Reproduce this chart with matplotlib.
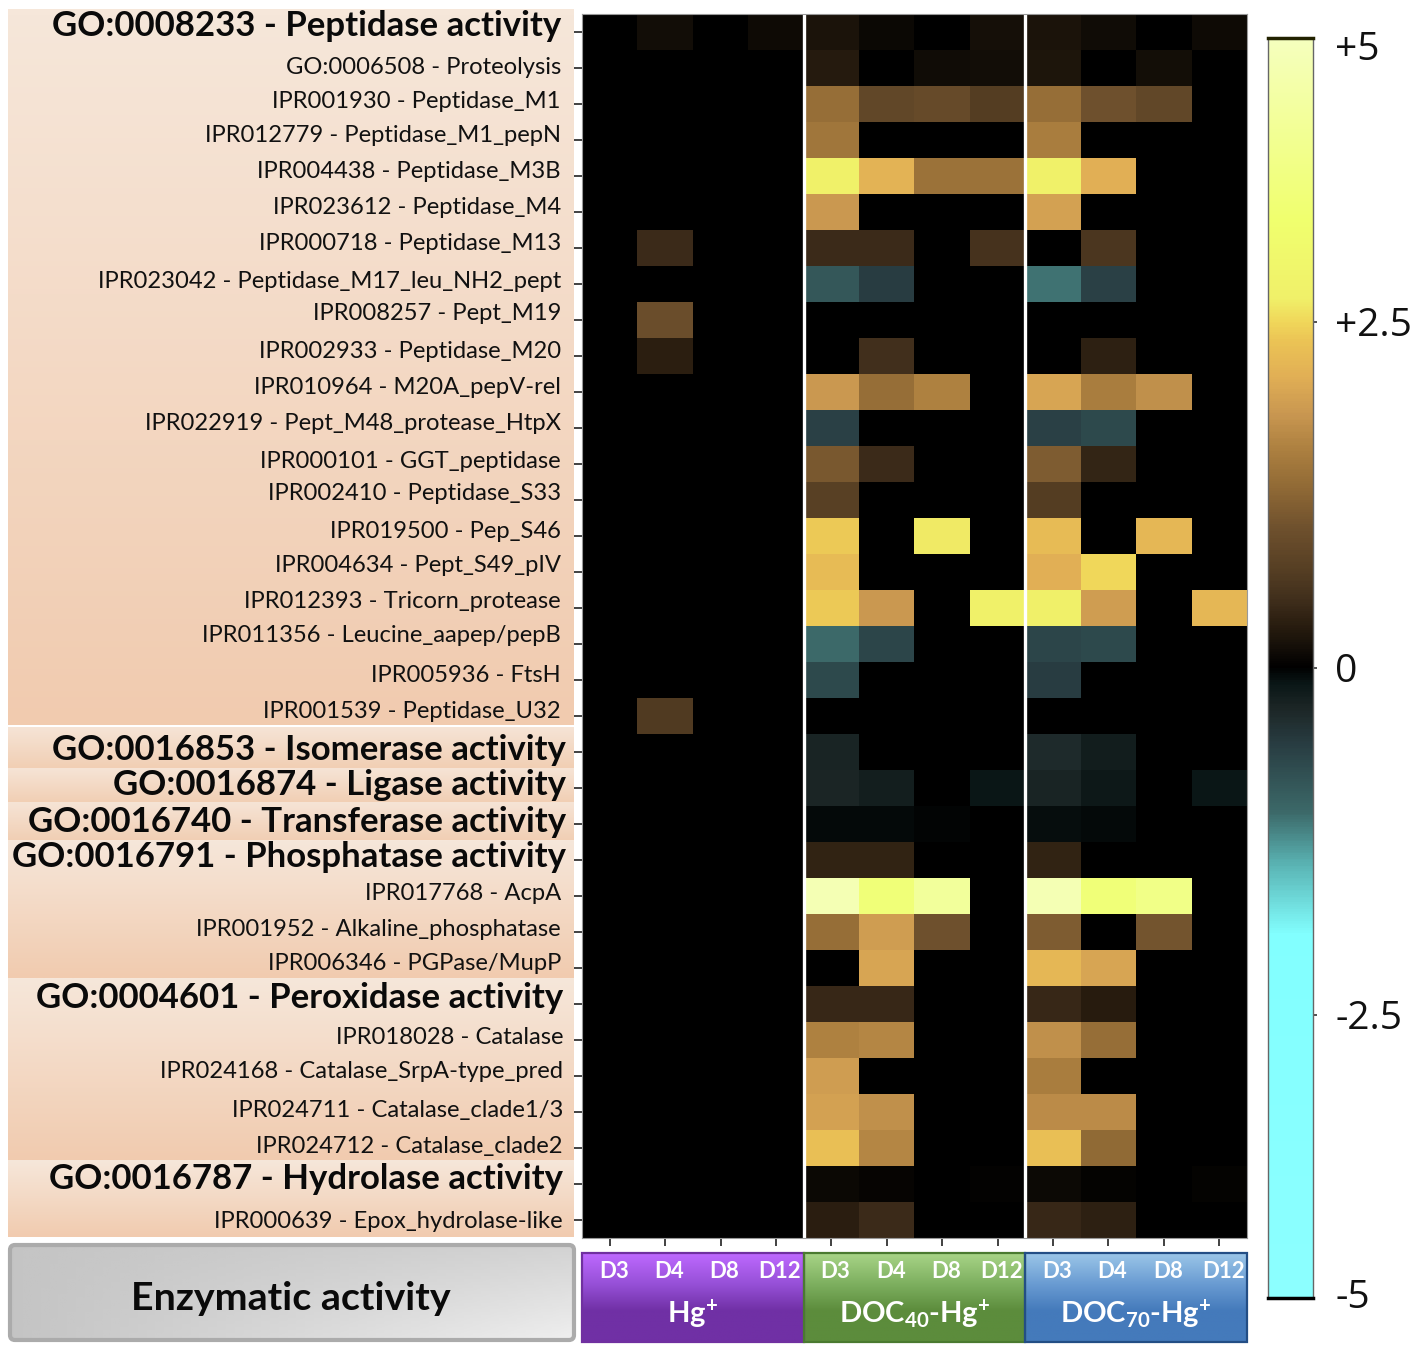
import numpy as np
import matplotlib
matplotlib.use("Agg")
import matplotlib.pyplot as plt
from matplotlib.colors import LinearSegmentedColormap, Normalize
from matplotlib.patches import FancyBboxPatch, Rectangle
from matplotlib.transforms import ScaledTranslation

plt.rcParams['font.family'] = ['Lato', 'DejaVu Sans']
plt.rcParams['mathtext.default'] = 'regular'

labels = [
    "GO:0008233 - Peptidase activity", "GO:0006508 - Proteolysis",
    "IPR001930 - Peptidase_M1", "IPR012779 - Peptidase_M1_pepN",
    "IPR004438 - Peptidase_M3B", "IPR023612 - Peptidase_M4",
    "IPR000718 - Peptidase_M13", "IPR023042 - Peptidase_M17_leu_NH2_pept",
    "IPR008257 - Pept_M19", "IPR002933 - Peptidase_M20",
    "IPR010964 - M20A_pepV-rel", "IPR022919 - Pept_M48_protease_HtpX",
    "IPR000101 - GGT_peptidase", "IPR002410 - Peptidase_S33",
    "IPR019500 - Pep_S46", "IPR004634 - Pept_S49_pIV",
    "IPR012393 - Tricorn_protease", "IPR011356 - Leucine_aapep/pepB",
    "IPR005936 - FtsH", "IPR001539 - Peptidase_U32",
    "GO:0016853 - Isomerase activity", "GO:0016874 - Ligase activity",
    "GO:0016740 - Transferase activity", "GO:0016791 - Phosphatase activity",
    "IPR017768 - AcpA", "IPR001952 - Alkaline_phosphatase",
    "IPR006346 - PGPase/MupP", "GO:0004601 - Peroxidase activity",
    "IPR018028 - Catalase", "IPR024168 - Catalase_SrpA-type_pred",
    "IPR024711 - Catalase_clade1/3", "IPR024712 - Catalase_clade2",
    "GO:0016787 - Hydrolase activity", "IPR000639 - Epox_hydrolase-like",
]
bold_rows = [0, 20, 21, 22, 23, 27, 32]
days = ["D3", "D4", "D8", "D12"]

hg = [
    [0, .13, 0, .1], [0, 0, 0, 0], [0, 0, 0, 0], [0, 0, 0, 0], [0, 0, 0, 0],
    [0, 0, 0, 0], [0, .45, 0, 0], [0, 0, 0, 0], [0, .95, 0, 0], [0, .33, 0, 0],
    [0, 0, 0, 0], [0, 0, 0, 0], [0, 0, 0, 0], [0, 0, 0, 0], [0, 0, 0, 0],
    [0, 0, 0, 0], [0, 0, 0, 0], [0, 0, 0, 0], [0, 0, 0, 0], [0, .65, 0, 0],
    [0, 0, 0, 0], [0, 0, 0, 0], [0, 0, 0, 0], [0, 0, 0, 0], [0, 0, 0, 0],
    [0, 0, 0, 0], [0, 0, 0, 0], [0, 0, 0, 0], [0, 0, 0, 0], [0, 0, 0, 0],
    [0, 0, 0, 0], [0, 0, 0, 0], [0, 0, 0, 0], [0, 0, 0, 0],
]
doc40 = [
    [.2, .08, 0, .15], [.28, 0, .12, .13], [1.35, .85, .9, .7], [1.45, 0, 0, 0],
    [2.75, 2.15, 1.4, 1.4], [1.85, 0, 0, 0], [.45, .45, 0, .55],
    [-.85, -.55, 0, 0], [0, 0, 0, 0], [0, .5, 0, 0], [1.85, 1.35, 1.6, 0],
    [-.6, 0, 0, 0], [1.1, .45, 0, 0], [.75, 0, 0, 0], [2.4, 0, 2.65, 0],
    [2.25, 0, 0, 0], [2.4, 1.85, 0, 2.75], [-1.05, -.65, 0, 0], [-.7, 0, 0, 0],
    [0, 0, 0, 0], [-.28, 0, 0, 0], [-.3, -.22, 0, -.12], [-.05, -.05, -.02, 0],
    [.38, .38, 0, 0], [4.8, 3.6, 4.3, 0], [1.35, 1.9, 1.0, 0], [0, 2.0, 0, 0],
    [.42, .42, 0, 0], [1.6, 1.65, 0, 0], [1.9, 0, 0, 0], [1.95, 1.75, 0, 0],
    [2.3, 1.65, 0, 0], [.08, .04, 0, .02], [.32, .45, 0, 0],
]
doc70 = [
    [.2, .12, 0, .1], [.22, 0, .14, 0], [1.35, 1.0, .85, 0], [1.55, 0, 0, 0],
    [2.75, 2.1, 0, 0], [1.95, 0, 0, 0], [0, .6, 0, 0], [-1.1, -.6, 0, 0],
    [0, 0, 0, 0], [0, .35, 0, 0], [2.0, 1.55, 1.75, 0], [-.6, -.7, 0, 0],
    [1.15, .4, 0, 0], [.7, 0, 0, 0], [2.25, 0, 2.2, 0], [2.1, 2.5, 0, 0],
    [2.7, 1.9, 0, 2.2], [-.65, -.7, 0, 0], [-.55, 0, 0, 0], [0, 0, 0, 0],
    [-.35, -.2, 0, 0], [-.28, -.15, 0, -.12], [-.07, -.05, 0, 0], [.38, 0, 0, 0],
    [4.8, 3.6, 3.9, 0], [1.15, 0, 1.05, 0], [2.2, 2.0, 0, 0], [.42, .3, 0, 0],
    [1.75, 1.35, 0, 0], [1.55, 0, 0, 0], [1.7, 1.7, 0, 0], [2.3, 1.3, 0, 0],
    [.09, .03, 0, .03], [.42, .35, 0, 0],
]
cbar_ticks = [5, 2.5, 0, -2.5, -5]
cbar_labels = ["+5", "+2.5", "0", "-2.5", "-5"]

W, H = 1418, 1352

# layout of the row labels, they do not sit exactly on their ticks in the figure
label_y = [24, 67, 101, 134, 171, 207, 243, 280, 313, 350, 386, 423, 460, 493, 530, 565, 600,
           635, 675, 711, 748, 783, 820, 855, 893, 928, 963, 996, 1037, 1070, 1109, 1146, 1177, 1220]
label_right = [561] * 20 + [566] * 4 + [561] * 3 + [563] * 7


def px_axes(fig, x0, y0, x1, y1, **kw):
    # axes given in image pixels, y going down
    return fig.add_axes([x0 / W, 1 - y1 / H, (x1 - x0) / W, (y1 - y0) / H], **kw)


def grad(ax, x0, y0, x1, y1, colors, stops=None):
    stops = stops if stops is not None else np.linspace(0, 1, len(colors))
    t = np.linspace(0, 1, 128)
    arr = np.stack([np.interp(t, stops, [c[k] for c in colors]) for k in range(3)], axis=1) / 255
    return ax.imshow(arr[:, None, :], extent=(x0, x1, y1, y0), aspect='auto', zorder=1)


# colour scale, anchors
anchors = [(-5, (140, 255, 255)), (-1.93, (130, 255, 255)), (-1.43, (90, 180, 180)),
           (-1.05, (60, 105, 105)), (-.55, (40, 60, 65)), (-.3, (28, 38, 38)),
           (-.12, (10, 22, 22)), (0, (0, 0, 0)), (.18, (25, 18, 10)), (.3, (40, 28, 15)),
           (.5, (65, 47, 28)), (.7, (85, 62, 35)), (1.0, (110, 80, 45)), (1.35, (150, 110, 55)),
           (1.6, (175, 130, 65)), (1.82, (200, 150, 80)), (2.1, (225, 175, 85)),
           (2.35, (235, 195, 85)), (2.5, (240, 215, 90)), (2.7, (240, 240, 105)),
           (3.4, (240, 255, 110)), (5, (245, 255, 190))]
cmap = LinearSegmentedColormap.from_list(
    "hm", [((v + 5) / 10, tuple(c / 255 for c in col)) for v, col in anchors], N=1024)
norm = Normalize(-5, 5)

fig = plt.figure(figsize=(W / 100, H / 100), dpi=100)

# background layer in pixel coordinates
bg = px_axes(fig, 0, 0, W, H)
bg.axis('off')

bands = [(9, 725), (727, 768), (768, 802), (802, 840), (840, 978), (978, 1160), (1160, 1237)]
for y0, y1 in bands:
    grad(bg, 8, y0, 574, y1, [(246, 231, 218), (241, 203, 175)] if y1 - y0 > 50 else [(246, 228, 214), (241, 207, 180)])

# heat map
values = np.hstack([np.array(hg), np.array(doc40), np.array(doc70)])
HX0, HX1, HY0, HY1 = 582, 1247, 14, 1238
ax = px_axes(fig, HX0, HY0, HX1, HY1)
ax.imshow(values, cmap=cmap, norm=norm, aspect='auto', interpolation='nearest')
ax.axvline(3.5, color='white', lw=2.4)
ax.axvline(7.5, color='white', lw=2.4)
ax.set_xticks(range(12))
ax.set_yticks(range(len(labels)))
ax.set_xticklabels([])
ax.set_yticklabels([])
ax.tick_params(length=5.5, width=1.3, color='#333333')
for s in ax.spines.values():
    s.set_color('#999999')
    s.set_linewidth(0.8)

col_w = (HX1 - HX0) / 12

# row labels
for i, lab in enumerate(labels):
    if i in bold_rows:
        bg.text(label_right[i], label_y[i] + 2, lab, ha='right', va='center', fontsize=25,
                fontweight='bold', color='#0a0a0a', zorder=3)
    else:
        bg.text(label_right[i], label_y[i] + 1, lab, ha='right', va='center', fontsize=17.1,
                color='#111111', zorder=3)

# box bottom left
box = FancyBboxPatch((10, 1245), 564, 95, boxstyle="round,pad=0,rounding_size=5",
                     fc='none', ec='#ababab', lw=3, zorder=3)
bg.add_patch(box)
gx, gy = np.meshgrid(np.linspace(0, 1, 64), np.linspace(0, 1, 32))
im = bg.imshow(196 + 14 * gx + 28 * gx * gy, cmap='gray', vmin=0, vmax=255,
               extent=(10, 574, 1340, 1245), aspect='auto', zorder=1)
im.set_clip_path(box)
bg.text(291, 1299, "Enzymatic activity", ha='center', va='center', fontsize=28.4, fontweight='bold', color='#0a0a0a', zorder=4)

# condition header boxes
groups = [
    ("Hg$^{+}$", 0, [(190, 105, 255), (150, 80, 215), (112, 48, 165), (112, 48, 165)], '#7030a0'),
    ("DOC$_{40}$-Hg$^{+}$", 4, [(168, 212, 135), (125, 175, 95), (92, 140, 60), (92, 140, 60)], '#4a7a30'),
    ("DOC$_{70}$-Hg$^{+}$", 8, [(155, 198, 232), (105, 155, 210), (68, 122, 187), (68, 122, 187)], '#234e85'),
]
for name, start, colors, edge in groups:
    x0 = HX0 + col_w * start
    x1 = x0 + col_w * 4
    grad(bg, x0, 1253, x1, 1342, colors, stops=[0, .35, .65, 1])
    bg.add_patch(Rectangle((x0, 1253), x1 - x0, 89, fc='none', ec=edge, lw=1.6, zorder=2))
    for j, d in enumerate(days):
        bg.text(x0 + col_w * (j + .5) + 4, 1272, d, ha='center', va='center', color='white',
                fontsize=16, fontweight='bold', zorder=3)
    bg.text((x0 + x1) / 2, 1315, name, ha='center', va='center', color='white',
            fontsize=21, fontweight='bold', zorder=3)

bg.set_xlim(0, W)
bg.set_ylim(H, 0)

# colour bar, the ticks are not evenly spaced along it
pos_stops = [0, .225, .5, .775, 1]
val_stops = [-5, -2.5, 0, 2.5, 5]


def to_pos(v):
    return np.interp(v, val_stops, pos_stops)


def to_val(p):
    return np.interp(p, pos_stops, val_stops)


cax = px_axes(fig, 1268, 38, 1313, 1298)
grid = np.linspace(-5, 5, 801)
cax.pcolormesh([0, 1], grid, grid[:-1, None], cmap=cmap, norm=norm, shading='flat', rasterized=True)
cax.set_yscale('function', functions=(to_pos, to_val))
cax.set_ylim(-5, 5)
cax.set_xticks([])
cax.yaxis.tick_right()
cax.set_yticks(cbar_ticks)
cax.set_yticklabels(cbar_labels, fontsize=28, family='Open Sans', color='#111111')
cax.tick_params(axis='y', length=3, width=1.2, pad=13, color='#333333')

# end ticks are hidden by the bar frame, and their labels sit inward
ticks = cax.yaxis.get_major_ticks()
for idx, dy in [(0, -8), (4, 4)]:
    ticks[idx].tick2line.set_visible(False)
    lab = ticks[idx].label2
    lab.set_transform(lab.get_transform() + ScaledTranslation(0, dy / 100, fig.dpi_scale_trans))

cax.spines['left'].set_color('#666666')
cax.spines['right'].set_color('#666666')
cax.spines['left'].set_linewidth(1)
cax.spines['right'].set_linewidth(1)
cax.spines['top'].set_linewidth(2.5)
cax.spines['bottom'].set_linewidth(2.5)
cax.spines['top'].set_color('#222200')

fig.savefig("out.png", dpi=100)
